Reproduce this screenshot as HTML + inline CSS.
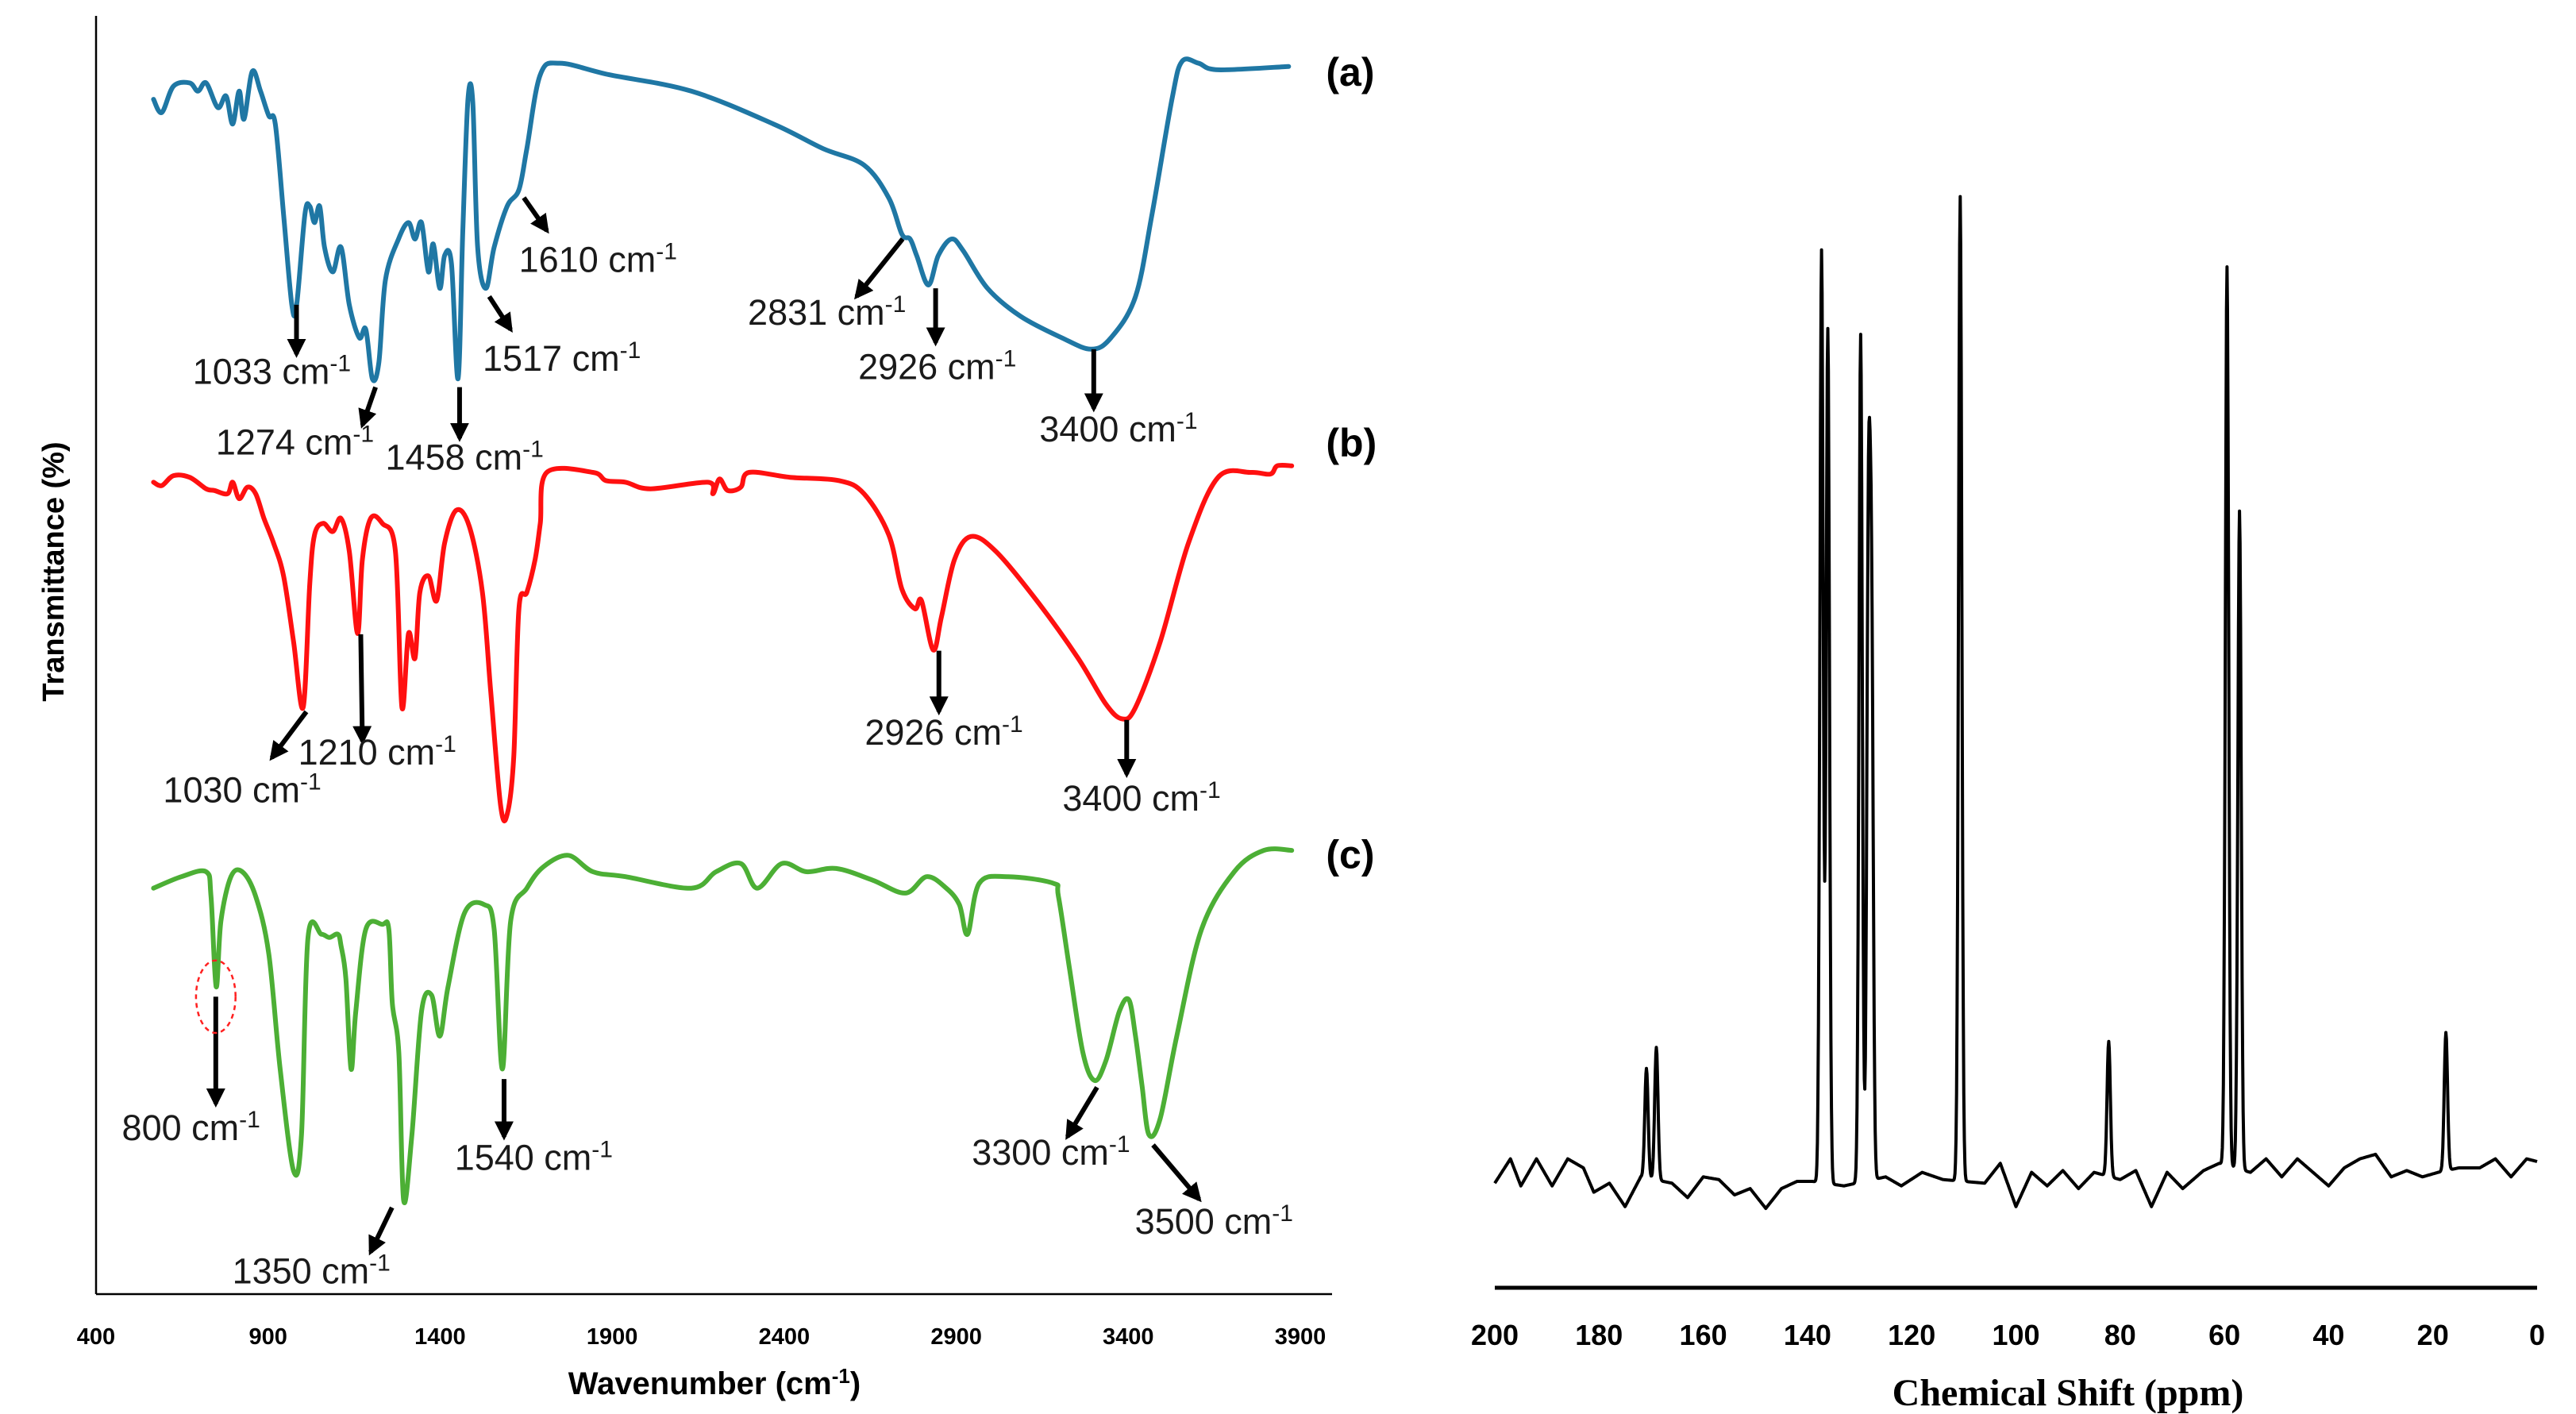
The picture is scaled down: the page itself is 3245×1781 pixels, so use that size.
<!DOCTYPE html>
<html><head><meta charset="utf-8"><style>
html,body{margin:0;padding:0;background:#fff;}
svg{display:block;}
.sans{font-family:"Liberation Sans",sans-serif;}
.serif{font-family:"Liberation Serif",serif;}
</style></head><body>
<svg id="chart" width="3245" height="1781" viewBox="0 0 3245 1781" xmlns="http://www.w3.org/2000/svg">
<defs>
<marker id="ah" viewBox="0 0 10 10" refX="8" refY="5" markerWidth="4" markerHeight="4" orient="auto"><path d="M0,0 L10,5 L0,10 z" fill="#000"/></marker>
</defs>
<g id="ir"></g>
<g id="nmr"></g>
</svg>
<script>
// ---------- FTIR data (wavenumber cm-1, transmittance a.u.) ----------
const irTicks = [400, 900, 1400, 1900, 2400, 2900, 3400, 3900];
const aWn = [567,591,625,672,696,720,754,778,797,816,830,854,878,902,921,945,969,983,1007,1021,1035,1050,1064,1088,1112,1136,1165,1184,1203,1222,1241,1279,1308,1327,1346,1366,1380,1399,1413,1433,1452,1466,1481,1495,1509,1533,1557,1595,1629,1652,1691,1748,1891,2130,2369,2513,2632,2704,2742,2766,2785,2819,2848,2886,2920,2991,3087,3206,3292,3350,3421,3469,3527,3556,3604,3661,3866];
const aT = [727,719,735,737,732,737,722,729,712,732,715,744,732,717,712,657,602,602,657,662,652,662,637,622,637,602,582,587,557,567,617,642,652,642,652,622,639,612,632,627,557,647,727,725,637,612,637,662,672,697,742,749,742,732,712,697,687,667,645,642,632,614,632,642,635,612,595,582,575,582,607,657,727,750,749,745,747];
const bWn = [567,591,625,672,720,744,782,797,816,840,864,888,916,945,974,1002,1021,1035,1060,1088,1112,1136,1160,1174,1198,1232,1270,1289,1308,1327,1341,1366,1390,1413,1447,1485,1523,1547,1576,1595,1614,1629,1652,1676,1691,1710,1844,1882,1939,2011,2178,2193,2212,2236,2274,2298,2417,2560,2632,2704,2742,2780,2799,2833,2857,2895,2943,3015,3134,3254,3335,3383,3421,3493,3575,3661,3756,3813,3833,3875];
const bT = [494,492,498,497,490,489,487,494,484,491,487,472,457,437,397,357,432,462,469,464,472,452,402,447,472,469,452,357,402,387,427,437,422,457,477,467,427,367,297,292,327,417,427,447,469,500,500,495,494,490,494,487,496,489,491,500,497,495,487,462,429,417,422,392,412,447,461,452,422,387,359,350,357,397,457,497,500,499,504,504];
const cWn = [567,648,720,734,749,763,792,825,864,902,935,974,997,1016,1055,1078,1103,1112,1126,1141,1155,1184,1232,1251,1261,1280,1294,1318,1346,1375,1399,1423,1471,1528,1557,1581,1605,1652,1700,1772,1844,1939,2130,2202,2274,2322,2393,2465,2551,2656,2752,2814,2871,2909,2933,2967,3048,3182,3197,3230,3268,3302,3335,3374,3402,3421,3440,3460,3493,3541,3613,3708,3794,3875];
const cT = [247,254,257,242,187,227,254,257,242,207,137,75,97,217,219,217,219,212,192,137,172,222,225,222,177,147,57,97,172,182,157,187,232,237,222,137,227,247,260,267,257,254,247,257,262,247,262,257,259,252,244,254,247,237,219,250,254,250,242,197,147,130,142,172,179,157,127,97,107,157,222,257,270,270];

// ---------- NMR data ----------
const nmrTicks = [200,180,160,140,120,100,80,60,40,20,0];
const peakPpm = [170.9,169.0,137.3,136.1,129.8,128.3,127.7,110.7,82.2,59.5,57.1,17.5];
const peakInt = [138,167,1174,1076,1068,797,676,1240,170,1132,829,174];
const basePpm = [200,197,195,192,189,186,183,181,178,175,172,166,163,160,157,154,151,148,145,142,139,133,125,122,118,114,106,103,100,97,94,91,88,85,80,77,74,71,68,64,61,55,52,49,46,43,40,37,34,31,28,25,22,19,15,11,8,5,2,0];
const baseVal = [-2,25,-5,25,-5,25,15,-12,-2,-28,5,-2,-18,5,2,-15,-8,-30,-8,0,0,-5,5,-5,10,2,-2,20,-28,10,-5,12,-8,10,2,12,-28,10,-8,12,20,10,25,5,25,10,-5,15,25,30,5,12,5,10,15,15,25,5,25,22];

const NS = 'http://www.w3.org/2000/svg';
function mk(tag, attrs, parent){const e=document.createElementNS(NS,tag);for(const k in attrs)e.setAttribute(k,attrs[k]);parent.appendChild(e);return e;}

// ---------- FTIR ----------
const ir = document.getElementById('ir');
const xL=121, xR=1638, yB=1630, yT=20;
const xIR = wn => xL + (wn-400)/3500*(xR-xL);
const yIR = t => 1630 - t*2.07;

let e;
e = mk('line',{x1:xL,y1:yT,x2:xL,y2:yB,stroke:'#000','stroke-width':2.5},ir);
 
e = mk('line',{x1:xL,y1:yB,x2:xR+40,y2:yB,stroke:'#000','stroke-width':2.5},ir);
 
irTicks.forEach(t=>{
  const tx = mk('text',{class:'sans',x:xIR(t),y:1693,'text-anchor':'middle','font-size':29,'font-weight':'bold',fill:'#000'},ir);
  tx.textContent=t;
   
});
e = mk('text',{class:'sans',x:900,y:1756,'text-anchor':'middle','font-size':40,'font-weight':'bold',fill:'#000'},ir);
e.innerHTML='Wavenumber (cm<tspan dy="-14" font-size="26">-1</tspan><tspan dy="14">)</tspan>';
 
e = mk('text',{class:'sans',x:0,y:0,'text-anchor':'middle','font-size':38,'font-weight':'bold',fill:'#000',transform:'translate(80,720) rotate(-90)'},ir);
e.textContent='Transmittance (%)';
 

function smoothPath(pts){
  let d='M'+pts[0][0].toFixed(1)+','+pts[0][1].toFixed(1);
  for(let i=0;i<pts.length-1;i++){
    const p0=pts[Math.max(0,i-1)],p1=pts[i],p2=pts[i+1],p3=pts[Math.min(pts.length-1,i+2)];
    const c1x=p1[0]+(p2[0]-p0[0])/6, c1y=p1[1]+(p2[1]-p0[1])/6;
    const c2x=p2[0]-(p3[0]-p1[0])/6, c2y=p2[1]-(p3[1]-p1[1])/6;
    d+=' C'+c1x.toFixed(1)+','+c1y.toFixed(1)+' '+c2x.toFixed(1)+','+c2y.toFixed(1)+' '+p2[0].toFixed(1)+','+p2[1].toFixed(1);
  }
  return d;
}
function series(wn,t,color,name){
  const pts = wn.map((w,i)=>[xIR(w),yIR(t[i])]);
  const p = mk('path',{d:smoothPath(pts),fill:'none',stroke:color,'stroke-width':6,'stroke-linejoin':'round','stroke-linecap':'round'},ir);
   
}
series(aWn,aT,'#1f77a4','spectrum-a');
series(bWn,bT,'#ff1010','spectrum-b');
series(cWn,cT,'#4caf35','spectrum-c');

const S=2.075;
const ann = [
 [180,185,180,215,117,233,'1033'],[228,235,220,258,131,276,'1274'],[279,235,279,266,234,285,'1458'],
 [297,180,310,200,293,225,'1517'],[318,120,332,140,315,165,'1610'],[548,145,520,180,454,197,'2831'],
 [568,175,568,208,521,230,'2926'],[664,212,664,248,631,268,'3400'],
 [186,432,165,460,99,487,'1030'],[219,385,220,450,181,464,'1210'],[570,395,570,432,525,452,'2926'],[684,437,684,470,645,492,'3400'],
 [131,605,131,670,74,692,'800'],[238,733,225,760,141,779,'1350'],[306,655,306,690,276,710,'1540'],
 [666,660,648,690,590,707,'3300'],[700,695,728,728,689,749,'3500']
];
ann.forEach(a=>{
  const l = mk('line',{x1:a[0]*S,y1:a[1]*S,x2:a[2]*S,y2:a[3]*S,stroke:'#000','stroke-width':6,'marker-end':'url(#ah)'},ir);
   
  const t = mk('text',{class:'sans',x:a[4]*S,y:a[5]*S,'font-size':45,fill:'#1a1a1a'},ir);
  t.innerHTML=a[6]+' cm<tspan dy="-16" font-size="30">-1</tspan>';
   
});
e = mk('ellipse',{cx:131*S,cy:605*S,rx:12*S,ry:22*S,fill:'none',stroke:'#ff2020','stroke-width':2.5,'stroke-dasharray':'6,5'},ir);
 
[['(a)',52],['(b)',277],['(c)',527]].forEach(p=>{
  const t = mk('text',{class:'sans',x:805*S,y:p[1]*S,'font-size':50,'font-weight':'bold',fill:'#000'},ir);
  t.textContent=p[0];
   
});

// ---------- NMR ----------
const nmr = document.getElementById('nmr');
const nx0=1883, nx1=3196, baseY=1488;
const xN = p => nx0 + (200-p)/200*(nx1-nx0);
const yN = v => baseY - v*1.136;
e = mk('line',{x1:nx0,y1:1622,x2:nx1,y2:1622,stroke:'#000','stroke-width':5},nmr);
 
nmrTicks.forEach(t=>{
  const tx = mk('text',{class:'sans',x:xN(t),y:1694,'text-anchor':'middle','font-size':36,'font-weight':'bold',fill:'#000'},nmr);
  tx.textContent=t;
   
});
e = mk('text',{class:'serif',x:2605,y:1770,'text-anchor':'middle','font-size':48,'font-weight':'bold',fill:'#000'},nmr);
e.textContent='Chemical Shift (ppm)';
 

function baseAt(p){
  for(let i=0;i<basePpm.length-1;i++){
    if(p<=basePpm[i] && p>=basePpm[i+1]){
      const f=(basePpm[i]-p)/(basePpm[i]-basePpm[i+1]);
      return baseVal[i]+(baseVal[i+1]-baseVal[i])*f;
    }
  }
  return 0;
}
const nmrPts=[];
for(let k=0;k<=2000;k++){
  const p = 200 - k*0.1;
  let v = baseAt(p);
  peakPpm.forEach((pp,i)=>{const w=0.45; const z=(p-pp)/w; v += peakInt[i]/1.136*Math.exp(-z*z);});
  nmrPts.push(xN(p).toFixed(1)+','+yN(v).toFixed(1));
}
e = mk('path',{d:'M'+nmrPts.join(' L'),fill:'none',stroke:'#000','stroke-width':4,'stroke-linejoin':'round'},nmr);
 
</script>
</body></html>
